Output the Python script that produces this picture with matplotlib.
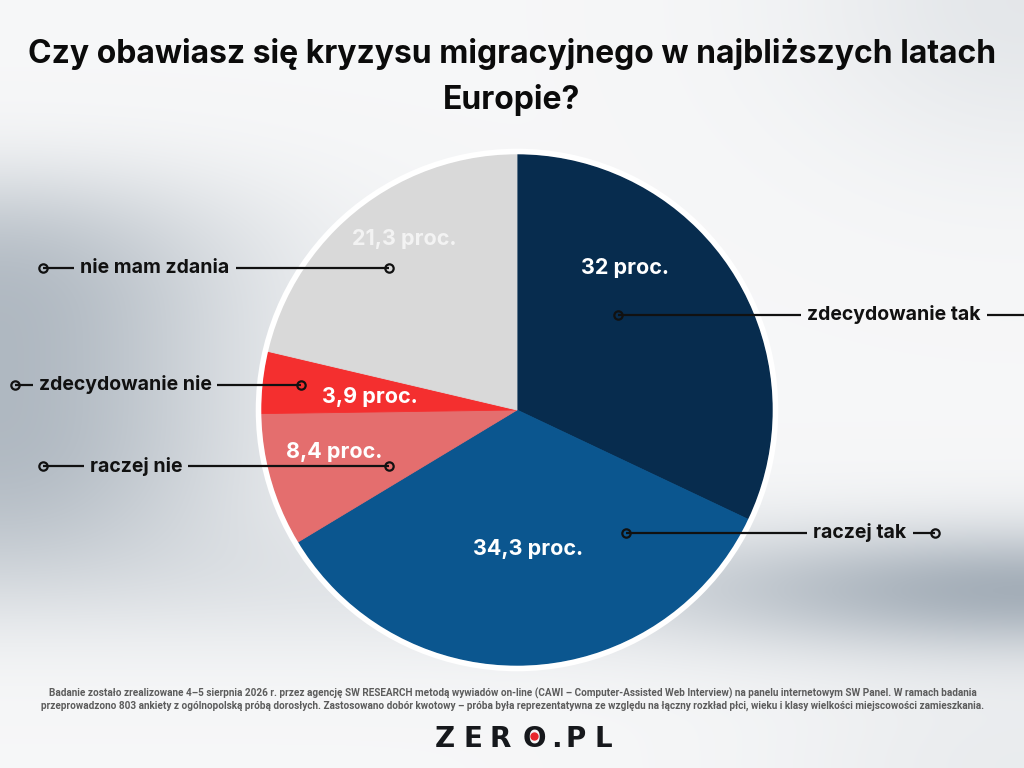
import numpy as np
import matplotlib
matplotlib.use("Agg")
import matplotlib.pyplot as plt

W, H = 1024, 768
FONT = "Inter"

title = "Czy obawiasz się kryzysu migracyjnego w najbliższych latach\nEuropie?"
answers = ["zdecydowanie tak", "raczej tak", "raczej nie", "zdecydowanie nie", "nie mam zdania"]
shares = [32.0, 34.3, 8.4, 3.9, 21.3]
value_labels = ["32 proc.", "34,3 proc.", "8,4 proc.", "3,9 proc.", "21,3 proc."]
colors = ["#072c4e", "#0b568f", "#e46e6e", "#f42f2f", "#d9d9d9"]
value_colors = ["white", "white", "white", "white", "#f3f3f3"]

footer = ("Badanie zostało zrealizowane 4–5 sierpnia 2026 r. przez agencję SW RESEARCH metodą wywiadów "
          "on-line (CAWI – Computer-Assisted Web Interview) na panelu internetowym SW Panel. W ramach badania\n"
          "przeprowadzono 803 ankiety z ogólnopolską próbą dorosłych. Zastosowano dobór kwotowy – próba była "
          "reprezentatywna ze względu na łączny rozkład płci, wieku i klasy wielkości miejscowości zamieszkania.")

# layout in pixel coords (y from top)
PIE_C = (517, 410)
PIE_R = 256
value_pos = [(625, 268), (528, 549), (334, 452), (370, 397), (404, 239)]
# (text centre x, y, left end x, right end x)
leaders = [(894, 315, 618, 1034), (860, 533, 626, 935), (136, 466, 43, 389),
           (125, 385, 15, 301), (155, 268, 43, 389)]
logo_letters = ["Z", "E", "R", "O", ".", "P", "L"]
logo_x = [444.5, 472.5, 500.5, 534, 556.5, 576, 603.5]


def P(x, y):
    return x, H - y


fig = plt.figure(figsize=(W / 100, H / 100), dpi=100)
ax = fig.add_axes([0, 0, 1, 1])

# soft grey background
xx, yy = np.meshgrid(np.arange(W), np.arange(H))
w = 0.85 * np.exp(-(xx / 250.0) ** 2) * np.exp(-((yy - 370) / 190.0) ** 4)
w += 0.75 * np.exp(-((xx - 1024) / 330.0) ** 2) * np.exp(-((yy - 590) / 60.0) ** 2)
w += 0.22 * np.exp(-((yy - 585) / 70.0) ** 2)
w += 0.22 * np.exp(-((xx - 1024) / 220.0) ** 2) * np.exp(-(yy / 160.0) ** 2)
w += 0.15 * np.exp(-((xx - 1024) / 250.0) ** 2) * np.exp(-((yy - 768) / 120.0) ** 2)
w = np.clip(w, 0, 1)[..., None]
base = np.array([0.966, 0.969, 0.973])
dark = np.array([0.64, 0.68, 0.72])
bg = base * (1 - w) + dark * w
ax.imshow(bg, extent=(0, W, 0, H), origin="upper", zorder=0)

wedges, _ = ax.pie(shares, colors=colors, startangle=90, counterclock=False,
                   center=P(*PIE_C), radius=PIE_R, wedgeprops=dict(linewidth=0.6))
for wd in wedges:
    wd.set_edgecolor(wd.get_facecolor())
    wd.set_zorder(2)
ax.add_patch(plt.Circle(P(*PIE_C), PIE_R + 2.5, fill=False, ec="white", lw=4, zorder=3))

for lab, pos, c in zip(value_labels, value_pos, value_colors):
    ax.text(*P(*pos), lab, ha="center", va="center", fontsize=15.5, fontweight="bold",
            color=c, family=FONT, zorder=5)

ax.set_xlim(0, W)
ax.set_ylim(0, H)
ax.set_aspect("equal")
ax.axis("off")

renderer = fig.canvas.get_renderer()
gap = 6
for name, (cx, y, x0, x1) in zip(answers, leaders):
    t = ax.text(*P(cx, y), name, ha="center", va="center", fontsize=14, fontweight="bold",
                color="#111111", family=FONT, zorder=6)
    bb = t.get_window_extent(renderer).transformed(ax.transData.inverted())
    yy_ = H - y
    ax.plot([x0, bb.x0 - gap], [yy_, yy_], color="#111111", lw=1.6, zorder=6, solid_capstyle="butt")
    ax.plot([bb.x1 + gap, x1], [yy_, yy_], color="#111111", lw=1.6, zorder=6, solid_capstyle="butt")
    ax.plot([x0, x1], [yy_, yy_], ls="none", marker="o", ms=6, mfc="none", mec="#111111",
            mew=1.6, zorder=7, clip_on=False)

ax.text(*P(512, 77), title, ha="center", va="center", fontsize=23, fontweight="bold",
        color="#0b0b0b", family=FONT, linespacing=1.52, zorder=6)

ax.text(*P(513, 699), footer, ha="center", va="center", fontsize=7.2, fontweight="bold",
        color="#5c5c5c", family="Roboto", linespacing=1.2, zorder=6)

# logo
logo_base = H - 747
for ch, x in zip(logo_letters, logo_x):
    ax.text(x, logo_base, ch, ha="center", va="baseline", fontsize=20, fontweight="bold",
            color="#16181c", family="DejaVu Sans", zorder=6)
ax.plot([logo_x[3]], [logo_base + 11.5], ls="none", marker="o", ms=5, color="#e8262b", zorder=7)

fig.savefig("out.png", dpi=100)
